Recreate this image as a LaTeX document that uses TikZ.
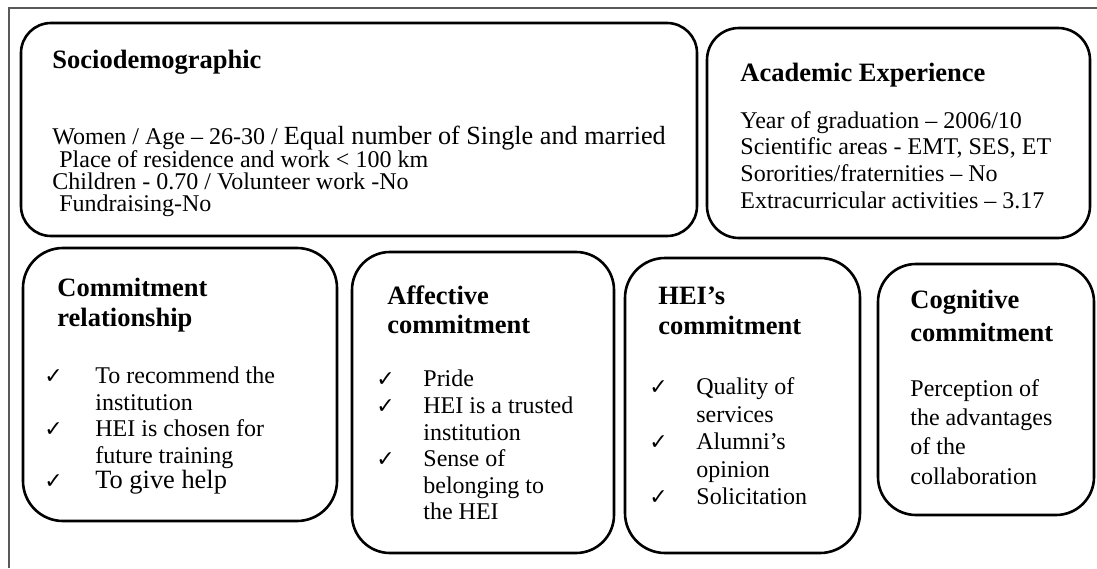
\documentclass[tikz,border=0pt]{standalone}
\usepackage{fontspec}
\setmainfont{Liberation Serif}
\newfontfamily\checkfont{DejaVu Sans}

\tikzset{
  panel/.style={draw=black, line width=1.3pt, rounded corners=#1},
  panel/.default=18pt,
  head/.style={font=\fontsize{13.25}{15}\selectfont\bfseries, anchor=base west, inner sep=0pt},
  body/.style={font=\fontsize{12}{13}\selectfont, anchor=base west, inner sep=0pt},
  tick/.style={font=\checkfont\fontsize{11}{11}\selectfont, anchor=base west, inner sep=0pt}
}

\begin{document}
\begin{tikzpicture}[x=0.5pt, y=-0.5pt]
    \useasboundingbox (0,0) rectangle (1097,568);

    % Outer frame (only top and left edges show)
    \draw[black!65, line width=0.8pt] (9,568) -- (9,8) -- (1097,8);

    % Rounded boxes
    \draw[panel=15pt] (21,23) rectangle (697,236);
    \draw[panel=16pt] (707,28) rectangle (1090,238);
    \draw[panel=20pt] (23,248) rectangle (337,521);
    \draw[panel=19pt] (352,252) rectangle (614,553);
    \draw[panel=20pt] (625,258) rectangle (860,553);
    \draw[panel=19pt] (878,264) rectangle (1094,515);

    % Sociodemographic
    \node[head] (socio) at (52,68) {Sociodemographic};
    \node[body] (socioA) at (52,144) {Women / Age – 26-30 / {\fontsize{13.1}{13}\selectfont Equal number of Single and married}};
    \node[body] (socioB) at (59,167) {Place of residence and work < 100 km};
    \node[body] (socioC) at (52,189) {Children - 0.70 / Volunteer work -No};
    \node[body] (socioD) at (59,211) {Fundraising-No};

    % Academic Experience
    \node[head] (acad) at (740,81) {Academic Experience};
    \node[body] (acadA) at (740,128) {Year of graduation – 2006/10};
    \node[body] (acadB) at (740,154) {Scientific areas - EMT, SES, ET};
    \node[body] (acadC) at (740,181) {Sororities/fraternities – No};
    \node[body] (acadD) at (740,208) {Extracurricular activities – 3.17};

    % Commitment relationship
    \node[head] (crel) at (57,296) {Commitment};
    \node[head] (crelB) at (57,326) {relationship};
    \node[tick] (crelT1) at (44,383) {✓};
    \node[tick] (crelT2) at (44,436) {✓};
    \node[tick] (crelT3) at (44,488) {✓};
    \node[body] (crelA) at (95,383) {To recommend the};
    \node[body] (crelC) at (95,410) {institution};
    \node[body] (crelD) at (95,436) {HEI is chosen for};
    \node[body] (crelE) at (95,463) {future training};
    \node[body, font=\fontsize{13.2}{13}\selectfont] (crelF) at (95,488) {To give help};

    % Affective commitment
    \node[head] (affc) at (387,304) {Affective};
    \node[head] (affcB) at (387,333) {commitment};
    \node[tick] (affcT1) at (376,386) {✓};
    \node[tick] (affcT2) at (376,413) {✓};
    \node[tick] (affcT3) at (376,466) {✓};
    \node[body] (affcA) at (423,386) {Pride};
    \node[body] (affcC) at (423,413) {HEI is a trusted};
    \node[body] (affcD) at (423,440) {institution};
    \node[body] (affcE) at (423,466) {Sense of};
    \node[body] (affcF) at (423,493) {belonging to};
    \node[body] (affcG) at (423,519) {the HEI};

    % HEI's commitment
    \node[head] (heic) at (658,304) {HEI’s};
    \node[head] (heicB) at (658,334) {commitment};
    \node[tick] (heicT1) at (649,394) {✓};
    \node[tick] (heicT2) at (649,449) {✓};
    \node[tick] (heicT3) at (649,504) {✓};
    \node[body] (heicA) at (696,394) {Quality of};
    \node[body] (heicC) at (696,422) {services};
    \node[body] (heicD) at (696,449) {Alumni’s};
    \node[body] (heicE) at (696,477) {opinion};
    \node[body] (heicF) at (696,504) {Solicitation};

    % Cognitive commitment
    \node[head] (cogc) at (910,308) {Cognitive};
    \node[head] (cogcB) at (910,341) {commitment};
    \node[body] (cogcA) at (910,396) {Perception of};
    \node[body] (cogcC) at (910,425) {the advantages};
    \node[body] (cogcD) at (910,454) {of the};
    \node[body] (cogcE) at (910,484) {collaboration};
\end{tikzpicture}
\end{document}
